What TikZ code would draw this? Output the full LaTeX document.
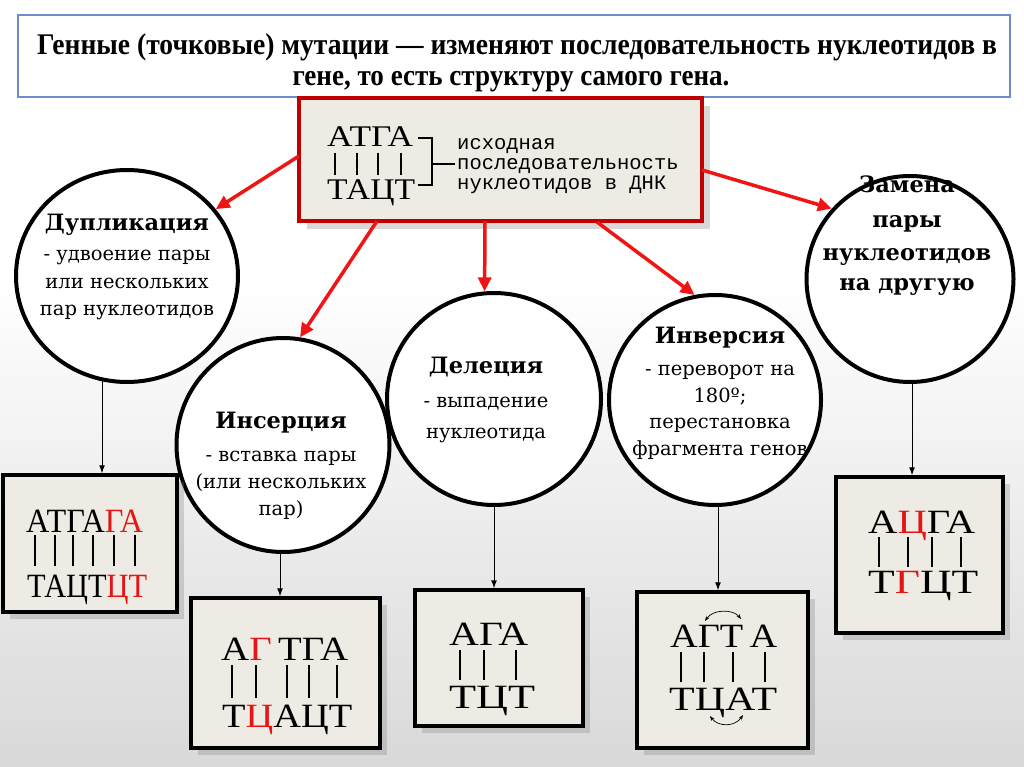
\documentclass[tikz,border=0pt]{standalone}
\usepackage{fontspec}
\usepackage{graphicx}
\setmainfont{DejaVu Serif}
\newfontfamily\titlefont{Liberation Serif}
\newfontfamily\dnafont{Liberation Serif}
\newfontfamily\monofont{Liberation Mono}
\usetikzlibrary{shapes.geometric,shadows,arrows.meta}
\definecolor{boxfill}{RGB}{237,235,227}
\definecolor{darkred}{RGB}{192,0,0}
\definecolor{arrowred}{RGB}{240,20,20}
\definecolor{mutred}{RGB}{230,20,20}
\definecolor{titleblue}{RGB}{110,140,205}
\newcommand\fitw[2]{\resizebox{#1pt}{\height}{#2}}
\begin{document}
\begin{tikzpicture}[x=1pt,y=-1pt,
  circ/.style={ellipse, draw=black, line width=4pt, fill=white, inner sep=0pt},
  resbox/.style={draw=black, line width=3.5pt, fill=boxfill, inner sep=0pt,
    drop shadow={shadow xshift=7pt, shadow yshift=-7pt, opacity=0.3}},
  srcbox/.style={draw=darkred, line width=4.5pt, fill=boxfill, inner sep=0pt,
    drop shadow={shadow xshift=8pt, shadow yshift=-8pt, opacity=0.3}},
  redarr/.style={draw=arrowred, line width=3.5pt, -{Triangle[length=14pt,width=13pt]}},
  blkarr/.style={draw=black, line width=1pt, -{Latex[length=8pt,width=6pt]}},
  dna/.style={anchor=base west, inner sep=0pt, font=\dnafont\fontsize{34}{34}\selectfont},
  bar/.style={line width=1.3pt},
  ctitle/.style={anchor=base, inner sep=0pt, font=\bfseries\fontsize{22.5}{22}\selectfont},
  cbody/.style={anchor=base, inner sep=0pt, font=\fontsize{19.5}{20}\selectfont},
  mono/.style={anchor=base west, inner sep=0pt, font=\monofont\fontsize{20.5}{20}\selectfont},
  ttl/.style={anchor=base, inner sep=0pt, font=\titlefont\bfseries\fontsize{30}{30}\selectfont}
]
\useasboundingbox (0,0) rectangle (1024,767);
% background
\fill[white] (0,0) rectangle (1024,767);
\shade[top color=white, bottom color=black!15] (0,280) rectangle (1024,767);

% title box
\node[draw=titleblue, line width=1.2pt, fill=white, minimum width=992pt, minimum height=82pt, inner sep=0pt] (tbox) at (514,56) {};
\node[ttl] (t1) at (517,55) {\fitw{960}{Генные (точковые) мутации — изменяют последовательность нуклеотидов в}};
\node[ttl] (t2) at (511,86) {\fitw{437}{гене, то есть структуру самого гена.}};

% source box
\node[srcbox, minimum width=403pt, minimum height=123pt] (src) at (500.5,159.5) {};
\node[dna, font=\dnafont\fontsize{30}{30}\selectfont] (s0t) at (327,147) {\fitw{86}{АТГА}};
\node[dna, font=\dnafont\fontsize{30}{30}\selectfont] (s0b) at (327,200) {\fitw{88}{ТАЦТ}};
\foreach \x in {335,357,378,401} \draw[bar] (\x,153) -- (\x,175);
\draw[line width=1.2pt] (418,138) -- (432,138) -- (432,185) -- (418,185);
\draw[line width=1.2pt] (432,164) -- (455,164);
\node[mono] (m1) at (457,150) {исходная};
\node[mono] (m2) at (457,170) {последовательность};
\node[mono] (m3) at (457,190) {нуклеотидов в ДНК};

% circles
\node[circ, minimum width=222pt, minimum height=212pt] (dup) at (127,276) {};
\node[circ, minimum width=213pt, minimum height=214pt] (ins) at (283,445) {};
\node[circ, minimum width=214pt, minimum height=212pt] (del) at (494,399) {};
\node[circ, minimum width=212pt, minimum height=210pt] (inv) at (715,400) {};
\node[circ, minimum width=207pt, minimum height=206pt] (zam) at (910,279) {};

% circle texts
\node[ctitle] (dupT) at (127,230) {Дупликация};
\foreach \t/\yy [count=\i] in {{- удвоение пары}/260, {или нескольких}/288, {пар нуклеотидов}/315}
  \node[cbody] (dupB\i) at (127,\yy) {\t};
\node[ctitle] (insT) at (281,428) {Инсерция};
\foreach \t/\yy [count=\i] in {{- вставка пары}/461, {(или нескольких}/488, {пар)}/515}
  \node[cbody] (insB\i) at (281,\yy) {\t};
\node[ctitle] (delT) at (486,373) {Делеция};
\foreach \t/\yy [count=\i] in {{- выпадение}/407, {нуклеотида}/438}
  \node[cbody] (delB\i) at (486,\yy) {\t};
\node[ctitle] (invT) at (720,343) {Инверсия};
\foreach \t/\yy [count=\i] in {{- переворот на}/375, {180º;}/402, {перестановка}/428, {фрагмента генов}/455}
  \node[cbody] (invB\i) at (720,\yy) {\t};
\foreach \t/\yy [count=\i] in {{Замена}/193, {пары}/228, {нуклеотидов}/260, {на другую}/290}
  \node[ctitle] (zamT\i) at (907,\yy) {\t};

% red arrows
\coordinate (s1) at (299,156);
\coordinate (s2) at (377,221);
\coordinate (s3) at (485,221);
\coordinate (s4) at (597,222);
\coordinate (s5) at (702,170);
\draw[redarr] (s1) -- (dup.37.5);
\draw[redarr] (s2) -- (ins.81.6);
\draw[redarr] (s3) -- (del.95);
\draw[redarr] (s4) -- (inv.101.5);
\draw[redarr] (s5) -- (zam.138);

% result boxes
\node[resbox, minimum width=174pt, minimum height=137pt] (b1) at (90,543.5) {};
\node[resbox, minimum width=189pt, minimum height=150pt] (b2) at (285.5,673) {};
\node[resbox, minimum width=168pt, minimum height=136pt] (b3) at (499,658) {};
\node[resbox, minimum width=171pt, minimum height=156pt] (b4) at (722.5,670) {};
\node[resbox, minimum width=167pt, minimum height=156pt] (b5) at (919.5,555) {};

% black arrows
\coordinate (a1) at (102,380);
\coordinate (a2) at (280,552);
\coordinate (a3) at (494,505);
\coordinate (a4) at (718,505);
\coordinate (a5) at (912,382);
\draw[blkarr] (a1) -- (a1 |- b1.north);
\draw[blkarr] (a2) -- (a2 |- b2.north);
\draw[blkarr] (a3) -- (a3 |- b3.north);
\draw[blkarr] (a4) -- (a4 |- b4.north);
\draw[blkarr] (a5) -- (a5 |- b5.north);

% box 1: duplication
\node[dna] (d1t) at (26,532) {\fitw{117}{АТГА\textcolor{mutred}{ГА}}};
\node[dna] (d1b) at (27,597) {\fitw{120}{ТАЦТ\textcolor{mutred}{ЦТ}}};
\foreach \x in {35,55,73,93,114,135} \draw[bar] (\x,535) -- (\x,566);

% box 2: insertion
\node[dna] (d2t) at (221,660) {\fitw{127}{А\textcolor{mutred}{Г}\,ТГА}};
\node[dna] (d2b) at (222,727) {\fitw{130}{Т\textcolor{mutred}{Ц}АЦТ}};
\foreach \x in {232,256,287,309,337} \draw[bar] (\x,665) -- (\x,698);

% box 3: deletion
\node[dna] (d3t) at (449,645) {\fitw{79}{АГА}};
\node[dna] (d3b) at (449,708) {\fitw{86}{ТЦТ}};
\foreach \x in {460,484,516} \draw[bar] (\x,650) -- (\x,680);

% box 4: inversion
\node[dna] (d4t) at (670,647) {\fitw{107}{АГТ\,А}};
\node[dna] (d4b) at (669,710) {\fitw{108}{ТЦАТ}};
\foreach \x in {681,704,733,765} \draw[bar] (\x,652) -- (\x,682);
\draw[line width=0.7pt, {Stealth[length=5pt]}-{Stealth[length=5pt]}] (705,621) .. controls (713,609) and (733,609) .. (741,619);
\draw[line width=0.7pt, {Stealth[length=5pt]}-{Stealth[length=5pt]}] (710,716) .. controls (718,727) and (735,727) .. (743,715);

% box 5: substitution
\node[dna] (d5t) at (868,533) {\fitw{107}{А\textcolor{mutred}{Ц}ГА}};
\node[dna] (d5b) at (868,593) {\fitw{110}{Т\textcolor{mutred}{Г}ЦТ}};
\foreach \x in {879,908,932,961} \draw[bar] (\x,537) -- (\x,567);
\end{tikzpicture}
\end{document}
